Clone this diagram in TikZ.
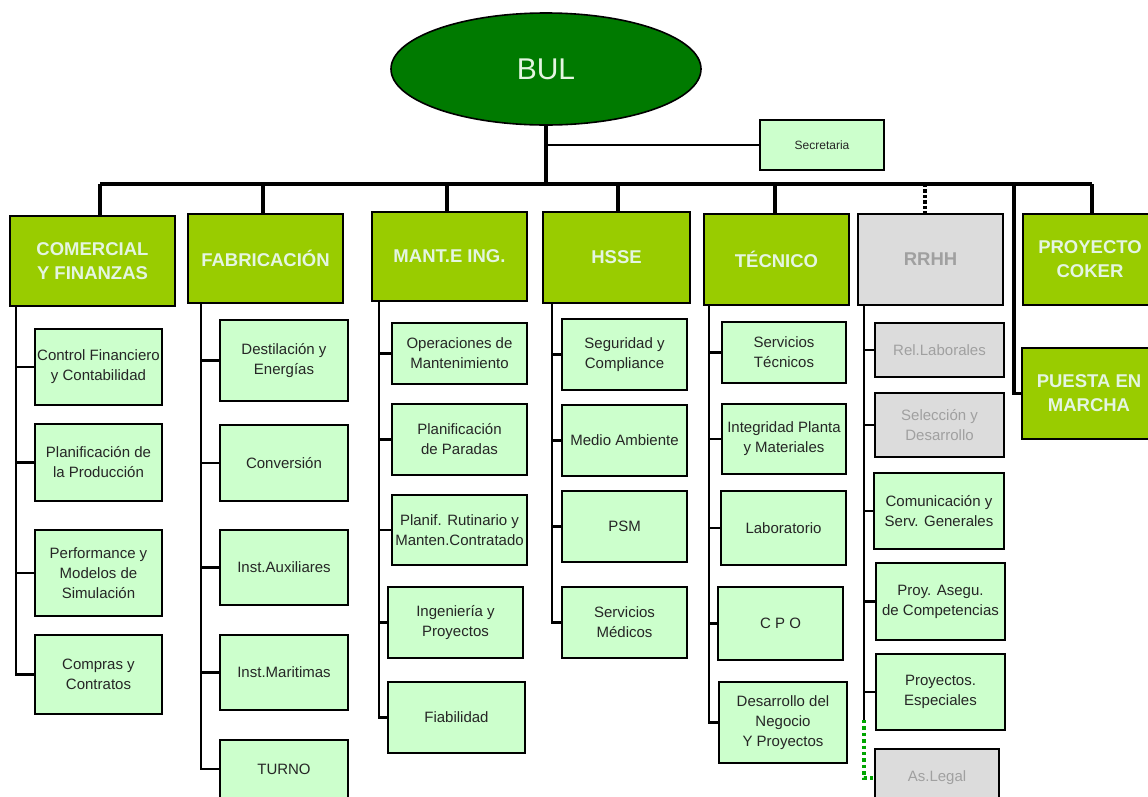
\documentclass[tikz,border=0pt]{standalone}
\usepackage{fontspec}
\setmainfont{Liberation Sans}
\usetikzlibrary{shapes.geometric}
\definecolor{bulgreen}{RGB}{0,122,0}
\definecolor{deptgreen}{RGB}{153,204,0}
\definecolor{subgreen}{RGB}{204,255,204}
\definecolor{offgray}{RGB}{220,220,220}
\definecolor{paletext}{RGB}{228,245,225}
\definecolor{graytext}{RGB}{160,160,160}
\definecolor{dotgreen}{RGB}{0,165,0}
\tikzstyle{dept}=[draw,line width=2pt,fill=deptgreen,text=paletext,
  font=\fontsize{18.5}{24}\selectfont\bfseries,align=center,inner sep=0pt]
\tikzstyle{unit}=[draw,line width=2pt,fill=subgreen,text=black!85,
  font=\fontsize{15}{20}\selectfont,align=center,inner sep=0pt]
\tikzstyle{off}=[fill=offgray,text=graytext]
\tikzstyle{bar}=[line width=3.4pt]
\tikzstyle{link}=[line width=2.2pt]
\tikzset{wh/.style 2 args={minimum width=#1pt,minimum height=#2pt}}

\begin{document}
\begin{tikzpicture}[x=1pt,y=-1pt]
  \useasboundingbox (0,0) rectangle (1148,796);

  % top
  \node[ellipse,draw,line width=1.6pt,fill=bulgreen,text=paletext,
        font=\fontsize{30}{36}\selectfont,minimum width=310pt,
        minimum height=112pt] (bul) at (546,69) {BUL};
  \node[unit,wh={124}{50},font=\fontsize{12}{14}\selectfont] (sec) at (822,145) {Secretaria};

  % departments
  \node[dept,wh={165}{90}] (com) at (92.5,261) {COMERCIAL\\Y FINANZAS};
  \node[dept,wh={155}{89}] (fab) at (265.5,258.5) {FABRICACIÓN};
  \node[dept,wh={155}{89}] (man) at (449.5,256.5) {MANT.E ING.};
  \node[dept,wh={147}{91}] (hsse) at (616.5,257.5) {HSSE};
  \node[dept,wh={145}{91}] (tec) at (776.5,259.5) {TÉCNICO};
  \node[dept,off,wh={145}{91}] (rrhh) at (930.5,259.5) {RRHH};
  \node[dept,wh={134}{91}] (coker) at (1090,259.5) {PROYECTO\\COKER};
  \node[dept,wh={134}{91}] (puesta) at (1089,393.5) {PUESTA EN\\MARCHA};

  % bus
  \coordinate (bus) at (546,184);
  \coordinate (busL) at (100,184);
  \coordinate (busR) at (1092,184);
  \draw[bar] (bul.south) -- (bus);
  \draw[link] (bul.south |- sec.west) -- (sec.west);
  \draw[bar] (busL) -- (busR);
  \foreach \n/\x in {com/100,fab/263,man/447,hsse/618,tec/775,coker/1092}{
    \coordinate (d\n) at (\x,184);
    \draw[bar] (d\n) -- (d\n |- \n.north);
  }
  \coordinate (drrhh) at (925,184);
  \draw[bar,dotted] (drrhh) -- (drrhh |- rrhh.north);
  \coordinate (dpuesta) at (1014,184);
  \draw[bar] (dpuesta) |- (puesta.west);

  % COMERCIAL
  \node[unit,wh={127}{76}] (cf) at (98.5,367) {Control Financiero\\y Contabilidad};
  \node[unit,wh={127}{77}] (pp) at (98.5,462.5) {Planificación de\\la Producción};
  \node[unit,wh={127}{86}] (pm) at (98.5,573) {Performance y\\Modelos de\\Simulación};
  \node[unit,wh={127}{79}] (cc) at (98.5,674.5) {Compras y\\Contratos};
  \coordinate (comT) at (16,306);
  \draw[link] (comT) |- (cc.west);
  \foreach \c in {cf,pp,pm} \draw[link] (comT |- \c.west) -- (\c.west);

  % FABRICACION
  \node[unit,wh={128}{81}] (de) at (284,360.5) {Destilación y\\Energías};
  \node[unit,wh={128}{76}] (cv) at (284,463) {Conversión};
  \node[unit,wh={128}{75}] (ia) at (284,567.5) {Inst.Auxiliares};
  \node[unit,wh={128}{75}] (im) at (284,672.5) {Inst.Maritimas};
  \node[unit,wh={128}{58}] (tu) at (284,769) {TURNO};
  \coordinate (fabT) at (201,303);
  \draw[link] (fabT) |- (tu.west);
  \foreach \c in {de,cv,ia,im} \draw[link] (fabT |- \c.west) -- (\c.west);

  % MANT
  \node[unit,wh={135}{61}] (op) at (459.5,353.5) {Operaciones de\\Mantenimiento};
  \node[unit,wh={135}{71}] (pa) at (459.5,439.5) {Planificación\\de Paradas};
  \node[unit,wh={135}{70}] (pr) at (459.5,530) {Planif. Rutinario y\\Manten.Contratado};
  \node[unit,wh={135}{71}] (ip) at (455.5,622.5) {Ingeniería y\\Proyectos};
  \node[unit,wh={137}{71}] (fi) at (456.5,717.5) {Fiabilidad};
  \coordinate (manT) at (379,301);
  \draw[link] (manT) |- (fi.west);
  \foreach \c in {op,pa,pr,ip} \draw[link] (manT |- \c.west) -- (\c.west);

  % HSSE
  \node[unit,wh={125}{71}] (sc) at (624.5,354.5) {Seguridad y\\Compliance};
  \node[unit,wh={125}{71}] (ma) at (624.5,440.5) {Medio Ambiente};
  \node[unit,wh={125}{71}] (psm) at (624.5,526.5) {PSM};
  \node[unit,wh={125}{71}] (sm) at (624.5,622.5) {Servicios\\Médicos};
  \coordinate (hsseT) at (552,303);
  \draw[link] (hsseT) |- (sm.west);
  \foreach \c in {sc,ma,psm} \draw[link] (hsseT |- \c.west) -- (\c.west);

  % TECNICO
  \node[unit,wh={124}{61}] (st) at (784,352.5) {Servicios\\Técnicos};
  \node[unit,wh={124}{70}] (ipm) at (784,439) {Integridad Planta\\y Materiales};
  \node[unit,wh={125}{74}] (la) at (783.5,528) {Laboratorio};
  \node[unit,wh={125}{73}] (cpo) at (780.5,623.5) {C P O};
  \node[unit,wh={128}{81}] (dn) at (783,722.5) {Desarrollo del\\Negocio\\Y Proyectos};
  \coordinate (tecT) at (709,305);
  \draw[link] (tecT) |- (dn.west);
  \foreach \c in {st,ipm,la,cpo} \draw[link] (tecT |- \c.west) -- (\c.west);

  % RRHH
  \node[unit,off,wh={129}{54}] (rl) at (939.5,350) {Rel.Laborales};
  \node[unit,off,wh={129}{64}] (sd) at (939.5,425) {Selección y\\Desarrollo};
  \node[unit,wh={130}{76}] (csg) at (939,511) {Comunicación y\\Serv. Generales};
  \node[unit,wh={129}{77}] (pac) at (940.5,601.5) {Proy. Asegu.\\de Competencias};
  \node[unit,wh={129}{76}] (pe) at (940.5,692) {Proyectos.\\Especiales};
  \node[unit,off,wh={124}{58}] (al) at (937,778) {As.Legal};
  \coordinate (rrT) at (864,305);
  \coordinate (rrE) at (864,720);
  \draw[link] (rrT) -- (rrE);
  \foreach \c in {rl,sd,csg,pac,pe} \draw[link] (rrT |- \c.west) -- (\c.west);
  \draw[dotgreen,line width=3.4pt,dash pattern=on 3.4pt off 3pt] (rrE) |- (al.west);

\end{tikzpicture}
\end{document}
